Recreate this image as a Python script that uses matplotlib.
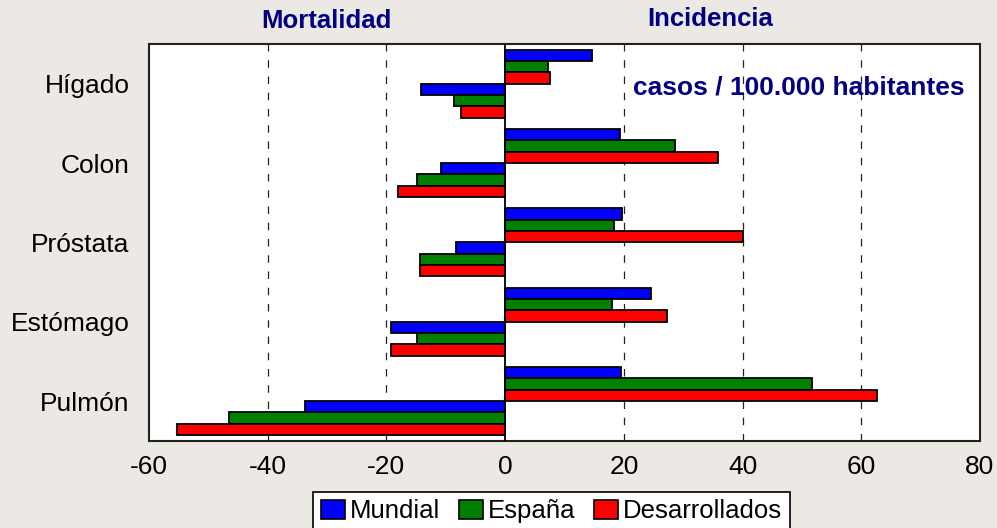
import numpy as np
import matplotlib
matplotlib.use("Agg")
import matplotlib.pyplot as plt
from matplotlib.patches import Patch

plt.rcParams['font.family'] = ['Liberation Sans', 'DejaVu Sans']

# datos (de arriba a abajo)
categorias = ["Hígado", "Colon", "Próstata", "Estómago", "Pulmón"]
series = ["Mundial", "España", "Desarrollados"]
colores = ["#0000FF", "#008000", "#FF0000"]

incid_mundial = [14.7, 19.3, 19.7, 24.5, 19.5]
incid_espana = [7.3, 28.6, 18.3, 18.0, 51.7]
incid_desarr = [7.6, 35.9, 40.1, 27.2, 62.6]

mort_mundial = [-14.2, -10.8, -8.3, -19.2, -33.7]
mort_espana = [-8.6, -14.9, -14.4, -14.8, -46.5]
mort_desarr = [-7.4, -18.0, -14.3, -19.2, -55.2]

xticks = [-60, -40, -20, 0, 20, 40, 60, 80]

fig = plt.figure(figsize=(9.97, 5.28), dpi=100, facecolor="#ECE8E4")
ax = fig.add_axes([149/997, 1 - 440.7/528, (980 - 149)/997, (440.7 - 44)/528])
ax.set_facecolor("white")

y = np.arange(len(categorias))[::-1].astype(float)  # Hígado arriba
h = 1/7

incid = [incid_mundial, incid_espana, incid_desarr]
mort = [mort_mundial, mort_espana, mort_desarr]
for i, (vals, col) in enumerate(zip(incid, colores)):
    ax.barh(y + (2.5 - i) * h, vals, height=h, color=col,
            edgecolor="black", linewidth=1.3, zorder=3)
for i, (vals, col) in enumerate(zip(mort, colores)):
    ax.barh(y - (0.5 + i) * h, vals, height=h, color=col,
            edgecolor="black", linewidth=1.3, zorder=3)

# rejilla discontinua
for xv in [-40, -20, 20, 40, 60]:
    ax.axvline(xv, color="#222222", linewidth=0.9, linestyle=(0, (6, 7)), zorder=1)
ax.axvline(0, color="black", linewidth=1.3, zorder=4)

ax.set_xlim(-60, 80)
ax.set_ylim(-0.5, 4.5)
ax.set_xticks(xticks)
ax.set_xticklabels([str(t) for t in xticks], fontsize=19)
ax.set_yticks(y)
ax.set_yticklabels(categorias, fontsize=19)
ax.tick_params(axis="x", length=0, pad=10)
ax.tick_params(axis="y", length=0, pad=14)
for s in ax.spines.values():
    s.set_linewidth(1.5)
    s.set_color("#222222")

fig.text(326.7/997, 1 - 21/528, "Mortalidad", color="#000080", fontsize=18.5,
         fontweight="bold", ha="center", va="center")
fig.text(710/997, 1 - 19/528, "Incidencia", color="#000080", fontsize=18.5,
         fontweight="bold", ha="center", va="center")
ax.text(21.5, 3.95, "casos / 100.000 habitantes", color="#000080", fontsize=19,
        fontweight="bold", ha="left", va="center", zorder=5)

handles = [Patch(facecolor=c, edgecolor="black", linewidth=1.2) for c in colores]
leg = fig.legend(handles, series, loc="upper center", ncol=3,
                 bbox_to_anchor=(551.5/997, 1 - 491.7/528), fontsize=18.5,
                 frameon=True, fancybox=False, edgecolor="black",
                 handlelength=0.95, handleheight=0.75, handletextpad=0.2,
                 columnspacing=0.7, borderpad=0.3, borderaxespad=0)
leg.get_frame().set_linewidth(1.2)
leg.get_frame().set_facecolor("white")
leg.get_frame().set_alpha(1)

fig.savefig("out.png", dpi=100, facecolor=fig.get_facecolor())
